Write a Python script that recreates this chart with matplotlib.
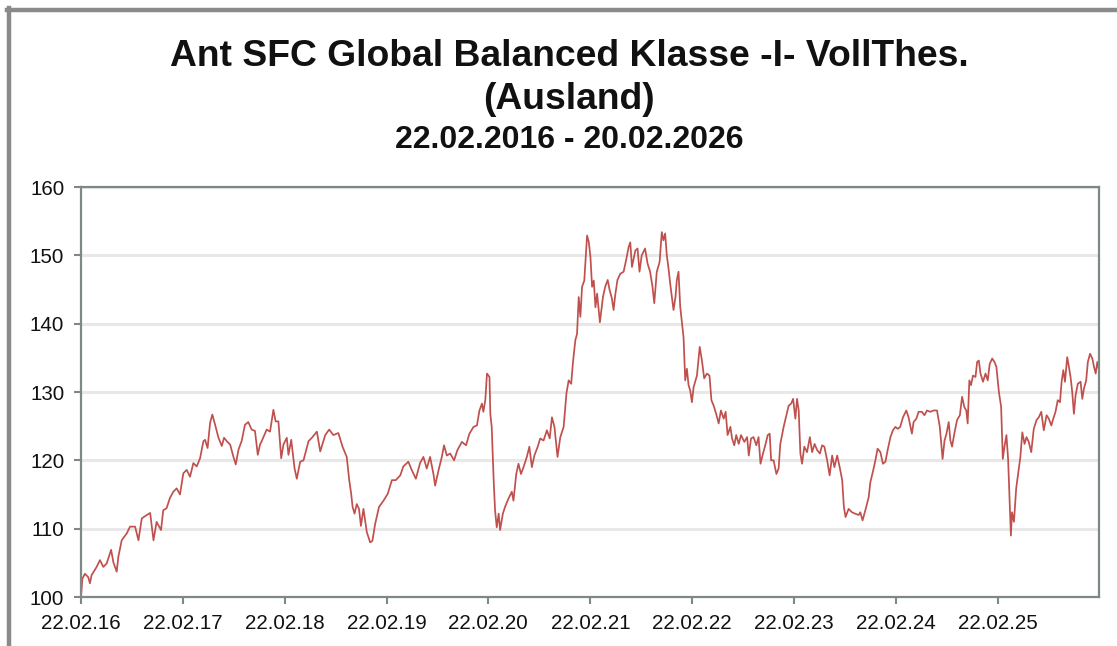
import numpy as np
import matplotlib
matplotlib.use("Agg")
import matplotlib.pyplot as plt
import matplotlib.dates as mdates
from matplotlib.lines import Line2D

plt.rcParams['font.family'] = ['Liberation Sans', 'DejaVu Sans']

# ---------------- data (t = years after 22.02.2016, value = price index) -------------
t_a = [0, 0.013, 0.039, 0.072, 0.088, 0.105, 0.154, 0.187, 0.219, 0.252, 0.295, 0.318, 0.350, 0.367, 0.399,
       0.449, 0.481, 0.530, 0.563, 0.596, 0.645, 0.678, 0.711, 0.743, 0.786, 0.809, 0.841, 0.874, 0.907, 0.940,
       0.972, 1.005, 1.038, 1.071, 1.103, 1.136, 1.169, 1.202, 1.218, 1.244, 1.267, 1.290, 1.316, 1.349, 1.382,
       1.405, 1.431, 1.464, 1.496, 1.519, 1.546, 1.578, 1.611, 1.644, 1.676, 1.709, 1.735, 1.758]
v_a = [100.0, 102.7, 103.4, 102.9, 102.0, 103.2, 104.4, 105.4, 104.4, 104.9, 106.9, 105.1, 103.7, 105.9, 108.3,
       109.3, 110.3, 110.3, 108.3, 111.5, 112.0, 112.3, 108.3, 111.0, 109.8, 112.7, 113.0, 114.5, 115.4, 115.9,
       115.0, 118.1, 118.6, 117.6, 119.6, 119.1, 120.3, 122.8, 123.0, 121.8, 125.5, 126.7, 125.2, 123.3, 122.1,
       123.3, 122.8, 122.3, 120.6, 119.4, 121.6, 122.8, 125.2, 125.6, 124.5, 124.3, 120.8, 122.3]

t_b = [1.775, 1.824, 1.857, 1.889, 1.912, 1.938, 1.965, 1.988, 2.020, 2.037, 2.063, 2.096, 2.119, 2.152, 2.184,
       2.233, 2.266, 2.315, 2.348, 2.397, 2.436, 2.479, 2.528, 2.567, 2.610, 2.633, 2.652, 2.668, 2.685, 2.708,
       2.731, 2.750, 2.773, 2.806, 2.839, 2.862, 2.888, 2.927, 2.970, 3.012, 3.052, 3.091, 3.134, 3.166, 3.215,
       3.248, 3.287, 3.330, 3.362, 3.395]
v_b = [122.8, 124.5, 124.2, 127.4, 125.7, 125.7, 120.3, 122.3, 123.3, 120.8, 123.0, 118.8, 117.3, 119.8, 120.0,
       122.8, 123.3, 124.2, 121.3, 123.7, 124.5, 123.7, 124.0, 122.0, 120.5, 117.1, 115.1, 113.2, 112.2, 113.6,
       112.9, 110.4, 112.9, 109.5, 108.0, 108.2, 110.7, 113.2, 114.1, 115.1, 117.1, 117.1, 117.8, 119.1, 119.8,
       118.6, 117.3, 119.6, 120.5, 118.8]

t_c = [3.428, 3.461, 3.477, 3.510, 3.543, 3.566, 3.592, 3.625, 3.664, 3.697, 3.739, 3.782, 3.815, 3.854, 3.887,
       3.913, 3.936, 3.952, 3.969, 3.985, 4.011, 4.018, 4.034, 4.051, 4.067, 4.083, 4.100, 4.116, 4.142, 4.165,
       4.198, 4.231, 4.247, 4.274, 4.297, 4.320, 4.346, 4.379, 4.402, 4.428, 4.451, 4.484, 4.510, 4.543, 4.576,
       4.602, 4.625, 4.648, 4.680, 4.707, 4.740, 4.766, 4.789, 4.812, 4.832, 4.855, 4.871, 4.888, 4.904, 4.920,
       4.943, 4.969, 4.986, 5.002, 5.018, 5.035, 5.051, 5.067, 5.094]
v_c = [120.5, 118.0, 116.3, 118.5, 120.5, 122.2, 120.7, 121.0, 120.0, 121.5, 122.7, 122.2, 123.9, 124.9, 125.1,
       127.3, 128.3, 127.1, 128.8, 132.7, 132.2, 126.8, 124.9, 117.1, 112.7, 110.2, 112.2, 109.8, 112.2, 113.2,
       114.4, 115.4, 114.1, 118.0, 119.5, 118.0, 119.0, 120.5, 122.0, 119.0, 120.7, 122.0, 123.2, 122.9, 124.4,
       123.2, 126.3, 124.9, 120.5, 123.4, 124.9, 129.8, 131.7, 131.2, 134.6, 137.6, 138.5, 143.9, 141.0, 145.4,
       146.3, 152.9, 152.0, 149.8, 145.4, 146.3, 142.4, 144.4, 140.2]

t_d = [5.125, 5.148, 5.171, 5.190, 5.213, 5.229, 5.245, 5.268, 5.294, 5.327, 5.356, 5.376, 5.393, 5.409, 5.425,
       5.442, 5.465, 5.484, 5.507, 5.540, 5.563, 5.589, 5.609, 5.628, 5.655, 5.681, 5.704, 5.720, 5.737, 5.753,
       5.770, 5.786, 5.802, 5.819, 5.838, 5.851, 5.868, 5.884]
v_d = [143.9, 145.4, 146.4, 144.9, 143.7, 142.0, 144.2, 146.4, 147.3, 147.6, 149.5, 151.2, 151.9, 148.3, 149.3,
       150.7, 151.0, 147.6, 150.0, 151.0, 148.8, 147.6, 145.6, 143.0, 147.6, 149.0, 153.4, 152.2, 153.2, 150.0,
       148.1, 145.9, 143.9, 142.0, 143.9, 146.4, 147.6, 142.5]

t_e = [5.917, 5.933, 5.950, 5.966, 5.983, 5.999, 6.015, 6.048, 6.074, 6.097, 6.120, 6.146, 6.172, 6.189, 6.212,
       6.238, 6.261, 6.284, 6.310, 6.330, 6.350, 6.376, 6.392, 6.415, 6.435, 6.458, 6.481, 6.513, 6.540, 6.556,
       6.579, 6.605, 6.631, 6.654, 6.671, 6.697, 6.720, 6.743, 6.763, 6.776, 6.802, 6.828, 6.851, 6.867, 6.900,
       6.926, 6.949, 6.972, 6.992, 7.015, 7.031, 7.048, 7.064, 7.080, 7.103, 7.130, 7.156, 7.179, 7.202, 7.228,
       7.254, 7.277, 7.300, 7.326, 7.352, 7.375, 7.398, 7.424, 7.450, 7.473, 7.490, 7.506, 7.538, 7.571, 7.601,
       7.636, 7.652, 7.675, 7.702, 7.734]
v_e = [138.0, 131.7, 133.4, 131.0, 130.2, 128.5, 130.7, 132.4, 136.6, 134.6, 132.0, 132.7, 132.4, 128.8, 128.0,
       126.8, 125.4, 127.3, 126.1, 127.1, 123.7, 124.9, 123.2, 122.2, 123.7, 122.4, 123.7, 122.7, 123.4, 120.7,
       123.2, 123.4, 122.2, 123.4, 119.5, 121.0, 122.2, 123.7, 123.9, 120.0, 120.0, 118.0, 118.8, 122.4, 124.9,
       126.6, 128.0, 128.3, 129.0, 126.1, 129.0, 127.3, 121.0, 119.5, 122.0, 121.2, 123.4, 121.2, 122.4, 121.5,
       121.0, 122.2, 122.0, 120.0, 117.8, 120.7, 119.0, 120.7, 119.0, 117.1, 113.2, 111.7, 112.9, 112.4, 112.2,
       112.0, 112.4, 111.2, 112.7, 114.6]

t_f = [7.751, 7.777, 7.800, 7.823, 7.849, 7.875, 7.898, 7.921, 7.947, 7.973, 7.996, 8.019, 8.045, 8.071, 8.104,
       8.127, 8.160, 8.176, 8.202, 8.225, 8.258, 8.281, 8.307, 8.340, 8.373, 8.406, 8.432, 8.448, 8.461, 8.478,
       8.497, 8.520, 8.537, 8.553, 8.576, 8.602, 8.629, 8.651, 8.674, 8.694, 8.707, 8.723, 8.740, 8.759, 8.782,
       8.799, 8.815, 8.832, 8.858, 8.881, 8.904, 8.923, 8.946, 8.969, 8.989, 9.012, 9.035, 9.051, 9.068, 9.087,
       9.104, 9.120, 9.130, 9.143, 9.160, 9.183, 9.206, 9.225, 9.242, 9.265, 9.284, 9.307, 9.330, 9.356, 9.383,
       9.405, 9.428, 9.455, 9.481, 9.504, 9.527, 9.546, 9.569, 9.592, 9.612, 9.628, 9.645, 9.661, 9.684, 9.700,
       9.717, 9.733, 9.750, 9.766, 9.789, 9.815, 9.832, 9.848, 9.871, 9.887, 9.907, 9.930, 9.946, 9.963, 9.979,
       9.992]
v_f = [116.8, 118.5, 120.0, 121.7, 121.2, 119.5, 119.8, 121.5, 123.4, 124.4, 124.9, 124.6, 124.9, 126.3, 127.3,
       126.3, 123.9, 125.6, 126.1, 127.1, 127.1, 126.6, 127.3, 127.1, 127.3, 127.3, 124.9, 122.0, 120.2, 122.9,
       123.9, 125.6, 122.9, 122.0, 123.9, 125.9, 126.6, 129.3, 127.8, 127.3, 125.4, 131.7, 131.0, 132.4, 132.2,
       134.4, 134.6, 132.7, 131.5, 132.7, 131.7, 134.1, 134.9, 134.4, 133.7, 130.0, 127.8, 120.2, 122.0, 123.7,
       120.2, 113.7, 109.0, 112.4, 111.0, 115.9, 118.3, 120.5, 124.1, 122.4, 123.4, 122.7, 121.2, 124.6, 125.9,
       126.3, 127.1, 124.4, 126.6, 126.1, 125.1, 126.1, 127.1, 128.8, 128.5, 131.5, 133.2, 131.5, 135.1, 133.7,
       132.2, 130.0, 126.8, 129.5, 131.2, 131.5, 129.0, 130.5, 131.7, 134.4, 135.6, 134.9, 133.7, 132.7, 134.4,
       133.4]

start_date = "2016-02-22"
end_date = "2026-02-20"
tick_years = [2016, 2017, 2018, 2019, 2020, 2021, 2022, 2023, 2024, 2025]
y_ticks = [100, 110, 120, 130, 140, 150, 160]
title_lines = ["Ant SFC Global Balanced Klasse -I- VollThes.", "(Ausland)", "22.02.2016 - 20.02.2026"]

# ---------------- build series ----------------
t_all = np.array(t_a + t_b + t_c + t_d + t_e + t_f)
v_all = np.array(v_a + v_b + v_c + v_d + v_e + v_f)
d0 = np.datetime64(start_date)
dates = d0 + np.round(t_all * 365.25).astype("timedelta64[D]")

W, H = 1117, 646
fig = plt.figure(figsize=(W / 100, H / 100), dpi=100)
ax = fig.add_axes([81 / W, 1 - 597 / H, (1099 - 81) / W, (597 - 187) / H])

line_color = "#c0504d"
spine_color = "#7f8888"
ax.plot(dates, v_all, color=line_color, lw=1.25)

ax.set_xlim(d0, np.datetime64(end_date))
ax.set_ylim(100, 160)
ax.set_yticks(y_ticks)
ax.set_xticks([np.datetime64(f"{y}-02-22") for y in tick_years])
ax.xaxis.set_major_formatter(mdates.DateFormatter("%d.%m.%y"))

ax.grid(axis="y", color="#e8e8e8", lw=2.2)
ax.set_axisbelow(True)
for s in ax.spines.values():
    s.set_color(spine_color)
    s.set_linewidth(1.6)
ax.tick_params(axis="both", colors=spine_color, labelcolor="#111111", labelsize=14.8,
               length=5, width=1.5)
ax.tick_params(axis="x", pad=7)
ax.tick_params(axis="y", pad=7)

# titles
title_x = 569 / W
fig.text(title_x, 1 - 66 / H, title_lines[0], ha="center", va="baseline", fontsize=26.8, fontweight="bold", color="#111111")
fig.text(title_x, 1 - 109 / H, title_lines[1], ha="center", va="baseline", fontsize=26.8, fontweight="bold", color="#111111")
fig.text(title_x, 1 - 148 / H, title_lines[2], ha="center", va="baseline", fontsize=23, fontweight="bold", color="#111111")

# outer frame (left and top grey border)
fig.add_artist(Line2D([9 / W, 9 / W], [0, 1 - 8 / H], transform=fig.transFigure, color="#8a8a8a", lw=3.2))
fig.add_artist(Line2D([7 / W, 1], [1 - 10 / H, 1 - 10 / H], transform=fig.transFigure, color="#8a8a8a", lw=3.2))

fig.savefig("out.png", dpi=100)
